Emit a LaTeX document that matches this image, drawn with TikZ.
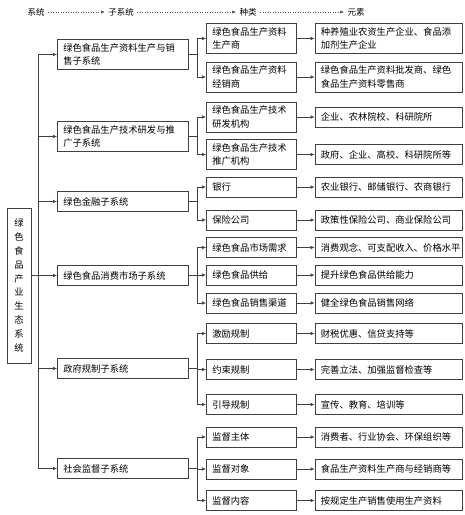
\documentclass[tikz,border=0pt]{standalone}
\usepackage{fontspec}
\setmainfont{Noto Sans CJK SC}
\usetikzlibrary{positioning,arrows.meta}

\tikzset{
  box/.style={draw=black!75, line width=0.6pt, inner xsep=6pt, inner ysep=4pt,
    minimum height=20pt, align=left, font=\fontsize{9.3}{13.5}\selectfont},
  sub/.style={box, text width=119pt, anchor=west},
  kind/.style={box, text width=78pt, anchor=west},
  elem/.style={box, text width=135pt},
  link/.style={draw=black!75, line width=0.6pt, -{Latex[length=4pt,width=3.5pt]}},
  branch/.style={link, to path={-- ++(9pt,0) |- (\tikztotarget)}},
  hdr/.style={draw=black!70, line width=0.5pt, dotted, -{Latex[length=3.5pt,width=3pt]}},
}

\begin{document}
\begin{tikzpicture}[x=1pt, y=1pt, node distance=18pt]
  \useasboundingbox (0,0) rectangle (465,-515);

  % header
  \node[font=\fontsize{8.5}{10}\selectfont] (h1) at (36,-12) {系统};
  \node[font=\fontsize{8.5}{10}\selectfont] (h2) at (121,-12) {子系统};
  \node[font=\fontsize{8.5}{10}\selectfont] (h3) at (248,-12) {种类};
  \node[font=\fontsize{8.5}{10}\selectfont] (h4) at (356,-12) {元素};
  \path (h1) edge[hdr] (h2) (h2) edge[hdr] (h3) (h3) edge[hdr] (h4);

  \node[box, minimum width=24pt, minimum height=155pt, inner xsep=0pt, align=center,
    font=\fontsize{9.3}{13.8}\selectfont] (sys) at (19,-285.5)
    {绿\\色\\食\\品\\产\\业\\生\\态\\系\\统};

  % subsystems
  \node[sub] (s1) at (57,-54.5) {绿色食品生产资料生产与销\\售子系统};
  \node[sub] (s2) at (57,-136.5) {绿色食品生产技术研发与推\\广子系统};
  \node[sub] (s3) at (57,-201.5) {绿色金融子系统};
  \node[sub] (s4) at (57,-275.5) {绿色食品消费市场子系统};
  \node[sub] (s5) at (57,-368.5) {政府规制子系统};
  \node[sub] (s6) at (57,-468.5) {社会监督子系统};

  % kinds
  \node[kind] (t11) at (206,-38.5) {绿色食品生产资料\\生产商};
  \node[kind] (t12) at (206,-77) {绿色食品生产资料\\经销商};
  \node[kind] (t21) at (206,-117) {绿色食品生产技术\\研发机构};
  \node[kind] (t22) at (206,-154.5) {绿色食品生产技术\\推广机构};
  \node[kind] (t31) at (206,-187) {银行};
  \node[kind] (t32) at (206,-220) {保险公司};
  \node[kind] (t41) at (206,-247.5) {绿色食品市场需求};
  \node[kind] (t42) at (206,-275) {绿色食品供给};
  \node[kind] (t43) at (206,-303) {绿色食品销售渠道};
  \node[kind] (t51) at (206,-333.5) {激励规制};
  \node[kind] (t52) at (206,-369.5) {约束规制};
  \node[kind] (t53) at (206,-404.5) {引导规制};
  \node[kind] (t61) at (206,-437) {监督主体};
  \node[kind] (t62) at (206,-469) {监督对象};
  \node[kind] (t63) at (206,-500.5) {监督内容};

  % elements
  \node[elem, right=of t11] (e11) {种养殖业农资生产企业、食品添\\加剂生产企业};
  \node[elem, right=of t12] (e12) {绿色食品生产资料批发商、绿色\\食品生产资料零售商};
  \node[elem, right=of t21] (e21) {企业、农林院校、科研院所};
  \node[elem, right=of t22] (e22) {政府、企业、高校、科研院所等};
  \node[elem, right=of t31] (e31) {农业银行、邮储银行、农商银行};
  \node[elem, right=of t32] (e32) {政策性保险公司、商业保险公司};
  \node[elem, right=of t41] (e41) {消费观念、可支配收入、价格水平};
  \node[elem, right=of t42] (e42) {提升绿色食品供给能力};
  \node[elem, right=of t43] (e43) {健全绿色食品销售网络};
  \node[elem, right=of t51] (e51) {财税优惠、信贷支持等};
  \node[elem, right=of t52] (e52) {完善立法、加强监督检查等};
  \node[elem, right=of t53] (e53) {宣传、教育、培训等};
  \node[elem, right=of t61] (e61) {消费者、行业协会、环保组织等};
  \node[elem, right=of t62] (e62) {食品生产资料生产商与经销商等};
  \node[elem, right=of t63] (e63) {按规定生产销售使用生产资料};

  % system to subsystems
  \coordinate (bus) at (38,0);
  \draw[draw=black!75, line width=0.6pt] (bus |- s1.west) -- (bus |- s6.west);
  \path (sys.east |- s4.west) edge[link] (s4.west);
  \path (bus |- s1.west) edge[link] (s1.west)
        (bus |- s2.west) edge[link] (s2.west)
        (bus |- s3.west) edge[link] (s3.west)
        (bus |- s5.west) edge[link] (s5.west)
        (bus |- s6.west) edge[link] (s6.west);

  % subsystems to kinds
  \path (s1.east) edge[branch] (t11.west) edge[branch] (t12.west);
  \path (s2.east) edge[branch] (t21.west) edge[branch] (t22.west);
  \path (s3.east) edge[branch] (t31.west) edge[branch] (t32.west);
  \path (s4.east) edge[branch] (t41.west) edge[branch] (t42.west) edge[branch] (t43.west);
  \path (s5.east) edge[branch] (t51.west) edge[branch] (t52.west) edge[branch] (t53.west);
  \path (s6.east) edge[branch] (t61.west) edge[branch] (t62.west) edge[branch] (t63.west);

  % kinds to elements
  \path (t11.east) edge[link] (e11.west) (t12.east) edge[link] (e12.west)
        (t21.east) edge[link] (e21.west) (t22.east) edge[link] (e22.west)
        (t31.east) edge[link] (e31.west) (t32.east) edge[link] (e32.west)
        (t41.east) edge[link] (e41.west) (t42.east) edge[link] (e42.west)
        (t43.east) edge[link] (e43.west) (t51.east) edge[link] (e51.west)
        (t52.east) edge[link] (e52.west) (t53.east) edge[link] (e53.west)
        (t61.east) edge[link] (e61.west) (t62.east) edge[link] (e62.west)
        (t63.east) edge[link] (e63.west);
\end{tikzpicture}
\end{document}
